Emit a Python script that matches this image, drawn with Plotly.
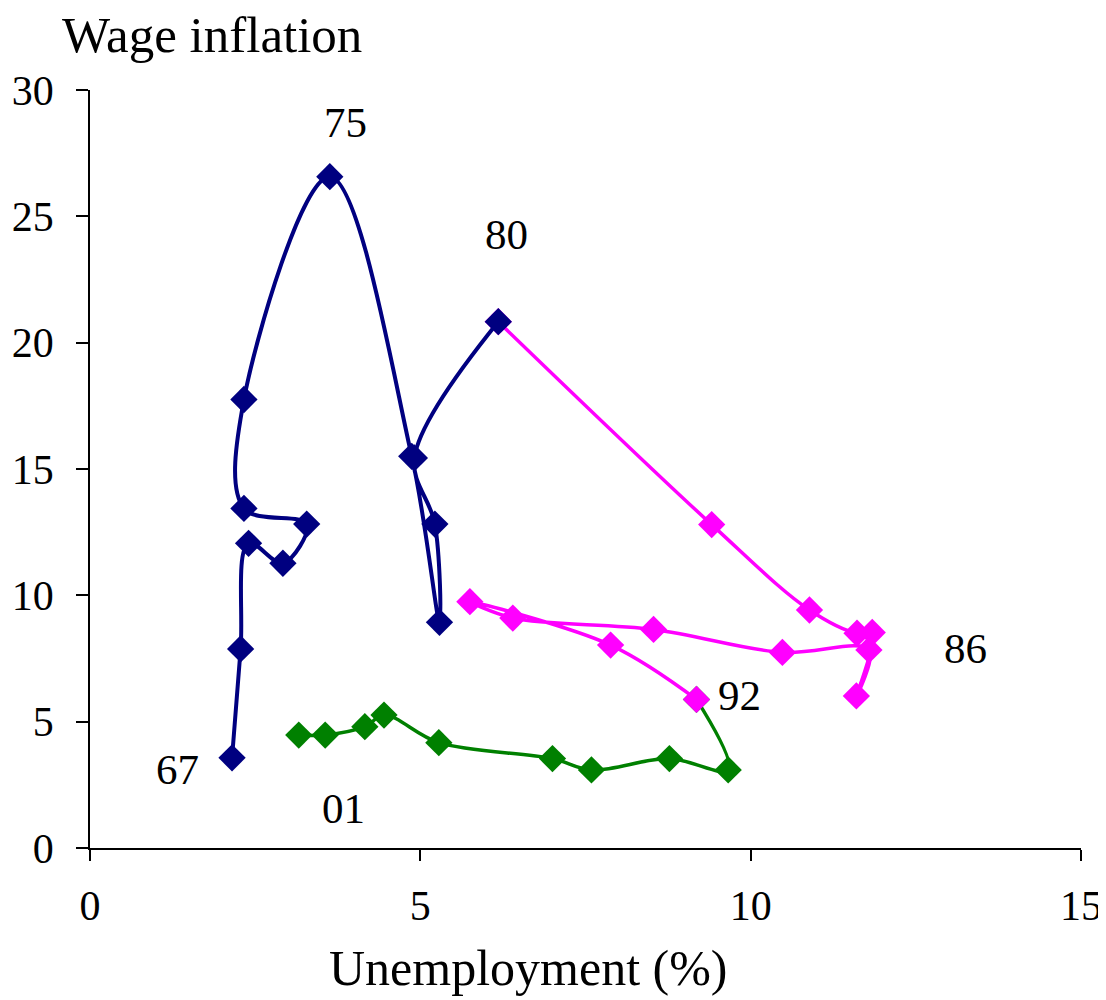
import plotly.graph_objects as go

# Navy series (1967-1980)
navy_x = [2.15, 2.28, 2.40, 2.92, 3.28, 2.33, 2.33, 3.63, 4.87, 5.29, 5.22, 4.91, 6.18]
navy_y = [3.57, 7.88, 12.06, 11.27, 12.82, 13.44, 17.75, 26.57, 15.50, 8.93, 12.82, 15.44, 20.83]

# Magenta series (1980-1992)
mag_x = [6.18, 9.41, 10.89, 11.61, 11.84, 11.60, 11.79, 10.48, 8.53, 6.40, 5.75, 7.88, 9.18]
mag_y = [20.83, 12.80, 9.42, 8.50, 8.53, 6.02, 7.84, 7.74, 8.65, 9.10, 9.75, 8.03, 5.88]

# Green series (1992-2001)
green_x = [9.18, 9.66, 8.77, 7.59, 7.00, 5.28, 4.45, 4.16, 3.56, 3.16]
green_y = [5.88, 3.09, 3.54, 3.09, 3.54, 4.17, 5.26, 4.80, 4.47, 4.47]

# Year labels
label_text = ["67", "75", "80", "86", "92", "01"]
label_x = [1.33, 3.86, 6.31, 13.25, 9.83, 3.84]
label_y = [3.09, 28.7, 24.3, 7.88, 6.05, 1.58]

x_ticks = [0, 5, 10, 15]
y_ticks = [0, 5, 10, 15, 20, 25, 30]

FONT = "Liberation Serif"

fig = go.Figure()

def add_series(xs, ys, color, lw):
    fig.add_trace(go.Scatter(
        x=xs, y=ys, mode="lines+markers",
        line=dict(color=color, width=lw, shape="spline", smoothing=1.0),
        marker=dict(symbol="diamond", size=21, color=color),
        showlegend=False, hoverinfo="skip"))

add_series(green_x, green_y, "#008000", 3.5)
add_series(mag_x, mag_y, "#FF00FF", 3.5)
add_series(navy_x, navy_y, "#000080", 4)

annotations = []
for t, x, y in zip(label_text, label_x, label_y):
    annotations.append(dict(x=x, y=y, xref="x", yref="y", text=t, showarrow=False,
                            font=dict(family=FONT, size=43, color="black"),
                            xanchor="center", yanchor="middle"))

annotations.append(dict(x=-0.03, y=1.073, xref="paper", yref="paper",
                        text="Wage inflation", showarrow=False,
                        font=dict(family=FONT, size=51, color="black"),
                        xanchor="left", yanchor="middle"))
annotations.append(dict(x=0.442, y=-0.158, xref="paper", yref="paper",
                        text="Unemployment (%)", showarrow=False,
                        font=dict(family=FONT, size=50, color="black"),
                        xanchor="center", yanchor="middle"))

fig.update_layout(
    width=1098, height=992,
    margin=dict(l=82, r=25, t=82, b=152),
    plot_bgcolor="white", paper_bgcolor="white",
    annotations=annotations,
    xaxis=dict(range=[0, 15], tickvals=x_ticks, showgrid=False, zeroline=False,
               automargin=False, ticklabeloverflow="allow",
               showline=True, linecolor="black", linewidth=1.5,
               ticks="outside", ticklen=11, tickcolor="black", tickwidth=1.5,
               tickfont=dict(family=FONT, size=42, color="black"),
               ticklabelstandoff=9),
    yaxis=dict(range=[0, 30], tickvals=y_ticks, showgrid=False, zeroline=False,
               automargin=False, ticklabeloverflow="allow",
               showline=True, linecolor="black", linewidth=1.5,
               ticks="outside", ticklen=12, tickcolor="black", tickwidth=1.5,
               tickfont=dict(family=FONT, size=42, color="black"),
               ticklabelstandoff=14),
)

fig.write_html("out.html")
